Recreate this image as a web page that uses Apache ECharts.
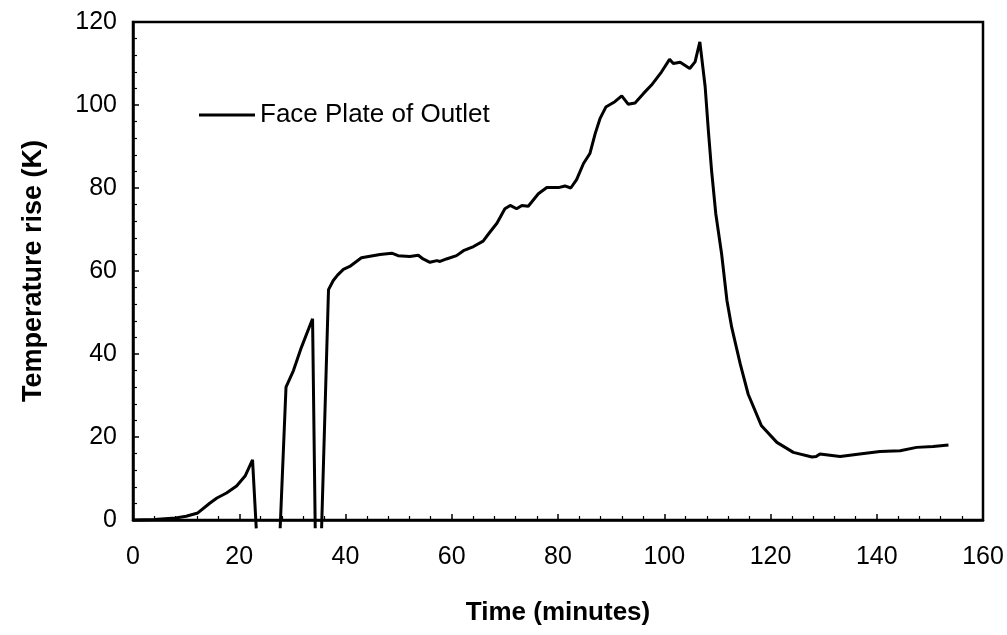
<!DOCTYPE html>
<html>
<head>
<meta charset="utf-8">
<script src="https://cdn.jsdelivr.net/npm/echarts@6/dist/echarts.min.js"></script>
<style>
  html, body { margin: 0; padding: 0; background: #fff; }
  #chart { width: 1007px; height: 635px; }
</style>
</head>
<body>
<div id="chart"></div>
<script>
// time in minutes (null = gap where the trace leaves the plot)
const times = [
  0, 4, 8, 10, 12.2, 14.5, 15.8, 17.6, 19.5, 21.1, 22.5, 23.2, null,
  27.7, 28.8, 30.2, 31.7, 33.8, 34.3, null,
  35.5, 36.8, 37.7, 38.5, 39.6, 40.8, 43.0, 46.5, 48.7, 49.9, 52.1, 53.7,
  54.6, 55.9, 57.2, 57.8, 59.0, 60.9, 62.2, 64.1, 65.9, 67.2, 68.5, 70.0,
  71.0, 72.2, 73.2, 74.4, 76.3, 77.9, 80.1, 81.3, 82.4, 83.5, 84.8, 86.0,
  87.0, 87.9, 89.0, 90.7, 92.0, 93.2, 94.5, 96.1, 97.6, 99.5, 101.0, 101.7,
  103.0, 104.8, 105.8, 106.7, 107.7, 108.3, 108.9, 109.7, 110.8, 111.8, 112.7,
  114.3, 115.8, 118.3, 121.2, 124.3, 127.8, 128.6, 129.3, 133.1, 136.8, 140.6,
  144.4, 147.5, 150.6, 153.5
];
// temperature rise (K)
const tempRise = [
  0, 0.1, 0.5, 0.9, 1.7, 4.1, 5.3, 6.5, 8.2, 10.6, 14.5, -2, null,
  -2, 32, 36, 41.6, 48.5, -2, null,
  -2, 55.5, 57.7, 59, 60.4, 61.1, 63.2, 64, 64.3, 63.7, 63.5, 63.8,
  62.9, 62.1, 62.5, 62.3, 62.9, 63.7, 64.9, 65.9, 67.2, 69.4, 71.5, 75.0,
  75.8, 75.0, 75.8, 75.6, 78.6, 80.1, 80.1, 80.5, 80.0, 82.0, 85.9, 88.3,
  93.1, 96.7, 99.5, 100.8, 102.2, 100.2, 100.5, 102.8, 104.8, 108, 111, 110,
  110.3, 108.8, 110.4, 115.2, 104.4, 93.9, 84.3, 73.8, 64.1, 52.9, 46.4,
  37.6, 30.3, 22.7, 18.7, 16.3, 15.2, 15.3, 15.9, 15.3, 15.9, 16.5,
  16.7, 17.5, 17.7, 18.1
];
const seriesName = 'Face Plate of Outlet';

const chart = echarts.init(document.getElementById('chart'));
const font = 'Arial, "Liberation Sans", sans-serif';

const option = {
  backgroundColor: '#fff',
  animation: false,
  grid: {
    left: 133, right: 24, top: 22, bottom: 115,
    show: true, borderColor: '#000', borderWidth: 2.5
  },
  legend: {
    data: [seriesName],
    left: 194, top: 97,
    icon: 'rect',
    itemWidth: 56, itemHeight: 3,
    itemGap: 0,
    textStyle: { color: '#000', fontSize: 26, fontFamily: font }
  },
  xAxis: {
    type: 'value',
    min: 0, max: 160, interval: 20,
    name: 'Time (minutes)',
    nameLocation: 'middle',
    nameGap: 80,
    nameTextStyle: { color: '#000', fontSize: 26, fontWeight: 'bold', fontFamily: font },
    axisLine: { lineStyle: { color: '#000', width: 2.5 } },
    axisTick: { inside: true, length: 6, lineStyle: { color: '#000', width: 1.5 } },
    minorTick: { show: true, splitNumber: 5, length: 4, lineStyle: { color: '#000', width: 1.2 } },
    axisLabel: { color: '#000', fontSize: 25, margin: 25, fontFamily: font },
    splitLine: { show: false }
  },
  yAxis: {
    type: 'value',
    min: 0, max: 120, interval: 20,
    name: 'Temperature rise (K)',
    nameLocation: 'middle',
    nameGap: 86,
    nameTextStyle: { color: '#000', fontSize: 27, fontWeight: 'bold', fontFamily: font },
    axisLine: { lineStyle: { color: '#000', width: 2.5 } },
    axisTick: { inside: true, length: 6, lineStyle: { color: '#000', width: 1.5 } },
    minorTick: { show: true, splitNumber: 5, length: 4, lineStyle: { color: '#000', width: 1.2 } },
    axisLabel: { color: '#000', fontSize: 25, margin: 16, fontFamily: font },
    splitLine: { show: false }
  },
  series: [{
    name: seriesName,
    type: 'line',
    data: times.map((t, i) => (t === null ? [null, null] : [t, tempRise[i]])),
    connectNulls: false,
    showSymbol: false,
    clip: false,
    color: '#000',
    lineStyle: { color: '#000', width: 3 }
  }]
};
chart.setOption(option);
</script>
</body>
</html>
